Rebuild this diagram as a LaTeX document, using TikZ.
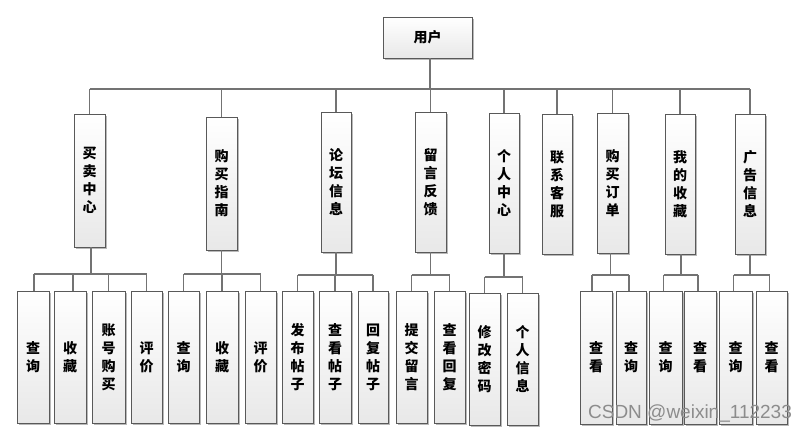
\documentclass[tikz,border=0pt]{standalone}
\usepackage{fontspec}
\newfontfamily\cjk{Noto Sans CJK SC}
\newfontfamily\wmfont{Liberation Sans}
\usetikzlibrary{shadows}
\tikzset{
  box/.style={draw=black!65, line width=0.9pt, top color=white, bottom color=black!9,
    inner sep=0pt, outer sep=0pt, align=center,
    font=\cjk\bfseries\fontsize{14}{18}\selectfont,
    drop shadow={shadow xshift=1.6pt, shadow yshift=-1.6pt, fill=black!50, opacity=0.55}},
  link/.style={draw=black!55, line width=1.1pt},
  wmark/.style={text=black!45, font=\wmfont\fontsize{19}{19}\selectfont, inner sep=0pt},
}
\newcommand\bx[6]{\node[box, minimum width={#4pt-#2pt}, minimum height={#5pt-#3pt}]
  (#1) at ({(#2+#4)/2},{(#3+#5)/2}) {#6};}
\begin{document}
\begin{tikzpicture}[x=1pt,y=-1pt]
\useasboundingbox[fill=white] (0,0) rectangle (805,432);
% coordinates of buses
\coordinate (bus) at (0,89);
\coordinate (sA) at (0,274);
\coordinate (sB) at (0,274);
\coordinate (sC) at (0,275);
\coordinate (sD) at (0,275);
\coordinate (sE) at (0,277);
\coordinate (sG) at (0,275);
\coordinate (sH) at (0,275);
\coordinate (sI) at (0,275);
% root
\bx{user}{383}{17}{472}{58}{用户}
% level 1
\bx{A}{74}{114}{105}{247}{买\\卖\\中\\心}
\bx{B}{206}{117}{237}{250}{购\\买\\指\\南}
\bx{C}{321}{112}{351}{252}{论\\坛\\信\\息}
\bx{D}{415}{112}{446}{252}{留\\言\\反\\馈}
\bx{E}{489}{113}{519}{253}{个\\人\\中\\心}
\bx{F}{542}{114}{572}{254}{联\\系\\客\\服}
\bx{G}{597}{113}{628}{253}{购\\买\\订\\单}
\bx{H}{665}{114}{695}{254}{我\\的\\收\\藏}
\bx{I}{735}{114}{765}{254}{广\\告\\信\\息}
% level 2
\bx{A1}{17}{291}{49}{423}{查\\询}
\bx{A2}{54}{291}{86}{423}{收\\藏}
\bx{A3}{92}{291}{125}{423}{账\\号\\购\\买}
\bx{A4}{131}{291}{162}{423}{评\\价}
\bx{B1}{168}{291}{199}{423}{查\\询}
\bx{B2}{206}{291}{238}{423}{收\\藏}
\bx{B3}{245}{291}{276}{423}{评\\价}
\bx{C1}{282}{291}{313}{423}{发\\布\\帖\\子}
\bx{C2}{319}{291}{351}{423}{查\\看\\帖\\子}
\bx{C3}{358}{291}{388}{423}{回\\复\\帖\\子}
\bx{D1}{396}{291}{427}{423}{提\\交\\留\\言}
\bx{D2}{434}{291}{465}{423}{查\\看\\回\\复}
\bx{E1}{469}{293}{500}{425}{修\\改\\密\\码}
\bx{E2}{507}{293}{538}{425}{个\\人\\信\\息}
\bx{G1}{580}{291}{612}{424}{查\\看}
\bx{G2}{616}{291}{646}{424}{查\\询}
\bx{H1}{649}{291}{682}{424}{查\\询}
\bx{H2}{684}{291}{716}{424}{查\\看}
\bx{I1}{719}{291}{752}{424}{查\\询}
\bx{I2}{756}{291}{787}{424}{查\\看}
% root to level 1
\draw[link] ([xshift=2.5pt]user.south) -- ([xshift=2.5pt]user.south |- bus);
\draw[link] (A.north |- bus) -- (I.north |- bus);
\foreach \n in {A,B,C,D,E,F,G,H,I}{
  \draw[link] (\n.north) -- (\n.north |- bus);
}
% group A
\draw[link] ([xshift=1.5pt]A.south) -- ([xshift=1.5pt]A.south |- sA);
\draw[link] ([xshift=1pt]A1.north |- sA) -- (A4.north |- sA);
\draw[link] ([xshift=1pt]A1.north) -- ([xshift=1pt]A1.north |- sA);
\draw[link] ([xshift=3pt]A2.north) -- ([xshift=3pt]A2.north |- sA);
\draw[link] (A3.north) -- (A3.north |- sA);
\draw[link] (A4.north) -- (A4.north |- sA);
% group B
\draw[link] (B.south) -- (B.south |- sB);
\draw[link] (B1.north |- sB) -- (B3.north |- sB);
\foreach \n in {B1,B2,B3}{ \draw[link] (\n.north) -- (\n.north |- sB); }
% group C
\draw[link] (C.south) -- (C.south |- sC);
\draw[link] (C1.north |- sC) -- (C3.north |- sC);
\foreach \n in {C1,C2,C3}{ \draw[link] (\n.north) -- (\n.north |- sC); }
% group D
\draw[link] (D.south) -- (D.south |- sD);
\draw[link] (D1.north |- sD) -- (D2.north |- sD);
\foreach \n in {D1,D2}{ \draw[link] (\n.north) -- (\n.north |- sD); }
% group E
\draw[link] (E.south) -- (E.south |- sE);
\draw[link] (E1.north |- sE) -- (E2.north |- sE);
\foreach \n in {E1,E2}{ \draw[link] (\n.north) -- (\n.north |- sE); }
% group G
\draw[link] ([xshift=-2pt]G.south) -- ([xshift=-2pt]G.south |- sG);
\draw[link] ([xshift=-4pt]G1.north |- sG) -- ([xshift=-2pt]G2.north |- sG);
\draw[link] ([xshift=-4pt]G1.north) -- ([xshift=-4pt]G1.north |- sG);
\draw[link] ([xshift=-2pt]G2.north) -- ([xshift=-2pt]G2.north |- sG);
% group H
\draw[link] ([xshift=1pt]H.south) -- ([xshift=1pt]H.south |- sH);
\draw[link] ([xshift=-2pt]H1.north |- sH) -- ([xshift=-2pt]H2.north |- sH);
\draw[link] ([xshift=-2pt]H1.north) -- ([xshift=-2pt]H1.north |- sH);
\draw[link] ([xshift=-2pt]H2.north) -- ([xshift=-2pt]H2.north |- sH);
% group I
\draw[link] (I.south) -- (I.south |- sI);
\draw[link] ([xshift=-2pt]I1.north |- sI) -- ([xshift=-2pt]I2.north |- sI);
\draw[link] ([xshift=-2pt]I1.north) -- ([xshift=-2pt]I1.north |- sI);
\draw[link] ([xshift=-2pt]I2.north) -- ([xshift=-2pt]I2.north |- sI);
% watermark
\node[wmark] (wm) at (690,413) {CSDN @weixin\_112233};
\end{tikzpicture}
\end{document}
